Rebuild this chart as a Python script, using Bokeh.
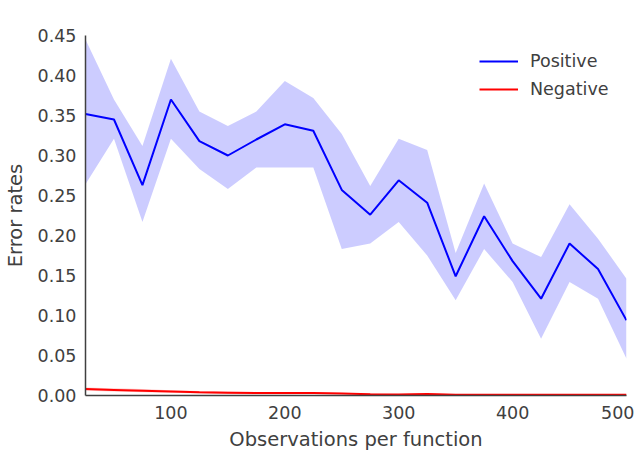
from bokeh.plotting import figure
from bokeh.models import FixedTicker, Legend, LegendItem, NumeralTickFormatter, Range1d
from bokeh.embed import file_html
from bokeh.resources import INLINE

# data
obs = [25, 50, 75, 100, 125, 150, 175, 200, 225, 250, 275, 300, 325, 350, 375, 400, 425, 450, 475, 500]
pos_mean = [0.352, 0.345, 0.263, 0.370, 0.318, 0.300, 0.320, 0.339, 0.331, 0.257, 0.226, 0.269, 0.241,
            0.149, 0.224, 0.168, 0.121, 0.190, 0.158, 0.094]
pos_upper = [0.445, 0.370, 0.312, 0.421, 0.355, 0.337, 0.355, 0.393, 0.372, 0.327, 0.262, 0.321, 0.307,
             0.178, 0.265, 0.190, 0.173, 0.239, 0.196, 0.146]
pos_lower = [0.264, 0.321, 0.217, 0.321, 0.283, 0.258, 0.285, 0.285, 0.285, 0.183, 0.190, 0.217, 0.175,
             0.119, 0.183, 0.142, 0.071, 0.142, 0.121, 0.046]
neg_mean = [0.008, 0.007, 0.006, 0.005, 0.004, 0.0035, 0.003, 0.003, 0.003, 0.0025, 0.0015, 0.0012, 0.0018,
            0.0008, 0.001, 0.0008, 0.0008, 0.0008, 0.0008, 0.0008]
neg_upper = [0.010, 0.009, 0.008, 0.0065, 0.0055, 0.005, 0.0045, 0.0045, 0.004, 0.0035, 0.0025, 0.002, 0.0028,
             0.0015, 0.0018, 0.0015, 0.0015, 0.0015, 0.0015, 0.0015]
neg_lower = [0.006, 0.005, 0.004, 0.0035, 0.0025, 0.002, 0.0015, 0.0015, 0.002, 0.0015, 0.0005, 0.0004, 0.0008,
             0.0001, 0.0002, 0.0001, 0.0001, 0.0001, 0.0001, 0.0001]
x_ticks = [100, 200, 300, 400, 500]
y_ticks = [0.0, 0.05, 0.10, 0.15, 0.20, 0.25, 0.30, 0.35, 0.40, 0.45]

FONT = "DejaVu Sans"
TXT = "#404040"

p = figure(width=634, height=456, output_backend="svg", toolbar_location=None,
           x_range=Range1d(25, 500), y_range=Range1d(0, 0.45),
           min_border_left=85, min_border_right=8, min_border_top=35, min_border_bottom=61)
p.outline_line_color = None
p.xgrid.visible = False
p.ygrid.visible = False
p.background_fill_color = "white"
p.border_fill_color = "white"

p.varea(x=obs, y1=pos_lower, y2=pos_upper, fill_color="blue", fill_alpha=0.2)
p.varea(x=obs, y1=neg_lower, y2=neg_upper, fill_color="red", fill_alpha=0.2)
r_pos = p.line(obs, pos_mean, line_color="blue", line_width=2)
r_neg = p.line(obs, neg_mean, line_color="red", line_width=2)

for ax in (p.xaxis[0], p.yaxis[0]):
    ax.axis_line_color = "#404040"
    ax.axis_line_width = 1.5
    ax.major_tick_line_color = None
    ax.minor_tick_line_color = None
    ax.major_tick_out = 0
    ax.minor_tick_out = 0
    ax.major_tick_in = 0
    ax.minor_tick_in = 0
    ax.major_label_text_font = FONT
    ax.major_label_text_font_size = "17.5px"
    ax.major_label_text_color = TXT
    ax.axis_label_text_font = FONT
    ax.axis_label_text_font_size = "19.5px"
    ax.axis_label_text_font_style = "normal"
    ax.axis_label_text_color = TXT

p.xaxis.ticker = FixedTicker(ticks=x_ticks)
p.yaxis.ticker = FixedTicker(ticks=y_ticks)
p.yaxis.formatter = NumeralTickFormatter(format="0.00")
p.xaxis.axis_label = "Observations per function"
p.yaxis.axis_label = "Error rates"
p.xaxis.major_label_standoff = 10
p.yaxis.major_label_standoff = 9
p.xaxis.axis_label_standoff = 6
p.yaxis.axis_label_standoff = 8

legend = Legend(items=[LegendItem(label="Positive", renderers=[r_pos]),
                       LegendItem(label="Negative", renderers=[r_neg])],
                location="top_right")
legend.background_fill_alpha = 0
legend.border_line_color = None
legend.label_text_font = FONT
legend.label_text_font_size = "17.5px"
legend.label_text_color = TXT
legend.glyph_width = 39
legend.glyph_height = 20
legend.label_height = 20
legend.label_width = 80
legend.spacing = 8
legend.label_standoff = 12
legend.padding = 10
legend.margin = 16
p.add_layout(legend)

open("out.html", "w").write(file_html(p, INLINE))
